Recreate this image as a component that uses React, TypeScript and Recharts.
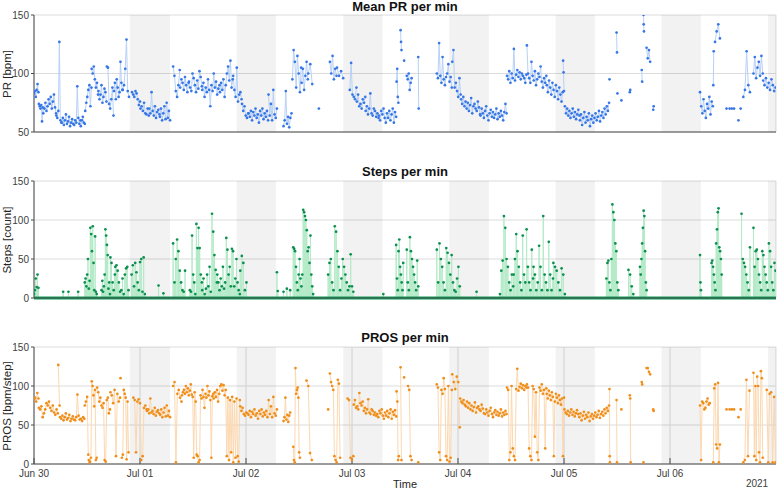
import React from 'react';
import { ComposedChart, Line, XAxis, YAxis, CartesianGrid, ReferenceArea, ReferenceLine } from 'recharts';

type Seg = [number, number, number[]];

// time axis in hours since Jun 30 00:00
const dayTicks = [0, 24, 48, 72, 96, 120, 144];
const dayLabels = ['Jun 30', 'Jul 01', 'Jul 02', 'Jul 03', 'Jul 04', 'Jul 05', 'Jul 06'];
const nightBands: [number, number][] = [
  [21.7, 30.8], [45.9, 54.8], [70.0, 78.9], [94.0, 103.0], [118.1, 127.0], [142.1, 151.0], [166.2, 168],
];
const prTicks = [50, 100, 150];
const countTicks = [0, 50, 100, 150];

// Mean PR per min [bpm]: [start h, end h, values]
const prSegments: Seg[] = [
  [0, 1.0, [83, 85, 80, 86, 91, 84]],
  [1.1, 2.0, [74, 72, 70, 73, 59, 71]],
  [2.1, 5.0, [66, 70, 75, 68, 72, 78, 74, 80, 70, 76, 82, 71, 66]],
  [5.05, 6.2, [64, 62, 68, 127, 60, 58]],
  [6.3, 10.5, [58, 62, 56, 60, 65, 57, 59, 63, 55, 58, 61, 57, 56, 60, 58, 89, 62, 57, 60]],
  [10.6, 11.5, [55, 60, 63, 58, 57]],
  [11.6, 13.0, [68, 75, 80, 86, 90, 72, 88]],
  [13.05, 14.5, [104, 100, 106, 95, 88, 92, 82]],
  [14.6, 16.4, [85, 78, 82, 90, 75, 80, 87, 84, 76]],
  [16.5, 18.0, [106, 105, 74, 70, 78, 88, 64]],
  [18.1, 20.0, [85, 92, 78, 95, 88, 80, 84, 110, 92, 86]],
  [20.1, 21.5, [86, 90, 104, 129, 85, 80]],
  [22.2, 24.0, [84, 82, 80, 85, 83, 78, 73, 76]],
  [24.1, 26.0, [70, 72, 68, 75, 66, 65, 70, 64]],
  [26.1, 28.4, [70, 66, 84, 68, 64, 72, 62, 67, 69, 65]],
  [28.5, 30.8, [63, 70, 60, 66, 72, 61, 75, 62, 68, 60]],
  [31.5, 33.0, [106, 98, 85, 80, 90, 103]],
  [33.1, 35.0, [88, 95, 92, 86, 97, 90, 84, 92]],
  [35.1, 38.0, [93, 88, 85, 100, 96, 90, 84, 94, 87, 102, 97, 89]],
  [38.1, 42.0, [86, 92, 80, 88, 84, 95, 86, 72, 90, 85, 100, 88, 93, 82, 87, 90]],
  [42.1, 45.0, [84, 92, 86, 95, 80, 90, 100, 106, 94, 111, 88, 95]],
  [45.1, 47.0, [98, 86, 80, 105, 76, 82, 84, 78]],
  [47.1, 48.5, [74, 68, 72, 64, 62, 66]],
  [48.6, 53.0, [66, 63, 68, 60, 67, 64, 70, 62, 65, 58, 68, 64, 70, 61, 66, 63, 68, 60]],
  [53.1, 55.0, [82, 64, 74, 60, 86, 65, 62, 70]],
  [56.5, 58.3, [55, 60, 85, 57, 63, 54, 62, 66]],
  [58.5, 60.5, [95, 120, 110, 88, 115, 100, 84, 105]],
  [60.6, 62.0, [92, 104, 86, 98, 110, 95]],
  [62.1, 63.0, [100, 108, 91]],
  [64.5, 64.5, [70]],
  [67.0, 68.5, [110, 100, 115, 95, 104, 98]],
  [68.6, 70.0, [105, 98, 102, 96]],
  [71.5, 73.0, [86, 109, 82, 80, 78, 88]],
  [73.1, 75.0, [76, 82, 72, 74, 70, 78, 75, 80]],
  [75.1, 78.0, [68, 72, 65, 70, 83, 66, 64, 70, 68, 63, 66, 62]],
  [78.1, 82.0, [64, 60, 68, 65, 70, 62, 58, 66, 62, 68, 60, 65, 70, 58, 67, 63]],
  [82.1, 82.5, [93, 104, 80, 75]],
  [83.0, 83.2, [137, 127, 120]],
  [83.8, 83.8, [111]],
  [84.4, 85.5, [98, 95, 100, 86, 92, 96]],
  [87.0, 87.1, [114, 70]],
  [91.2, 94.6, [100, 96, 126, 98, 92, 114, 95, 90, 97, 100, 108, 93, 97, 88]],
  [94.7, 96.6, [110, 120, 88, 92, 85, 80, 96, 82]],
  [96.7, 101.0, [78, 74, 80, 72, 76, 70, 75, 68, 73, 79, 66, 72, 74, 70, 68, 76, 71, 65]],
  [101.1, 107.0, [64, 70, 66, 62, 68, 72, 64, 60, 66, 69, 63, 67, 62, 65, 70, 61, 66, 63, 68, 64, 60, 67, 74, 66]],
  [107.1, 111.5, [98, 95, 102, 92, 100, 96, 121, 94, 99, 103, 97, 101, 95, 100, 98, 96, 92, 99]],
  [111.6, 116.0, [124, 100, 96, 92, 110, 98, 94, 102, 90, 95, 100, 97, 106, 93, 88, 96, 92, 98]],
  [116.1, 119.7, [90, 84, 94, 88, 82, 92, 86, 80, 90, 85, 78, 88, 82, 76, 84]],
  [119.8, 120.0, [111, 101, 85]],
  [120.2, 123.5, [72, 66, 70, 64, 68, 62, 66, 70, 63, 67, 61, 65, 69, 64]],
  [123.6, 130.2, [60, 65, 56, 62, 67, 58, 63, 60, 66, 55, 61, 64, 58, 62, 66, 60, 63, 68, 59, 64, 67, 62, 70, 65, 72, 68, 75]],
  [130.3, 130.3, [95]],
  [131.9, 132.0, [135, 118]],
  [132.1, 132.1, [83]],
  [133.0, 133.0, [77]],
  [134.9, 135.0, [84, 86]],
  [137.6, 137.7, [103, 93]],
  [138.0, 138.1, [150, 142, 136]],
  [138.7, 139.5, [122, 113, 120, 110]],
  [140.2, 140.3, [69, 72]],
  [150.8, 153.7, [84, 72, 66, 78, 68, 62, 74, 70, 80, 65, 76, 72]],
  [153.8, 153.9, [90, 119]],
  [154.2, 155.3, [127, 136, 142, 130]],
  [156.8, 156.8, [70]],
  [157.5, 157.5, [70]],
  [158.0, 158.0, [70]],
  [158.5, 158.5, [70]],
  [159.5, 159.5, [60]],
  [160.0, 160.0, [70]],
  [160.6, 162.1, [80, 86, 119, 90, 84]],
  [162.9, 165.0, [100, 114, 96, 105, 110, 98, 115, 100]],
  [165.1, 167.9, [94, 90, 96, 88, 92, 86, 95, 90, 85, 88]],
];

// Steps per min [count]: non-zero readings only (all other minutes are 0)
const stepSegments: Seg[] = [
  [0.0, 1.0, [5, 10, 25, 14, 30, 13]],
  [6.6, 6.6, [8]],
  [7.8, 7.8, [8]],
  [10.0, 10.0, [8]],
  [11.5, 14.2, [20, 25, 15, 30, 50, 12, 22, 90, 82, 60, 92, 45, 10, 79, 8, 5]],
  [15.3, 17.2, [10, 22, 8, 15, 30, 88, 80, 68, 55, 12, 20, 5]],
  [17.3, 18.3, [52, 45, 20, 10, 30]],
  [18.4, 21.4, [40, 42, 35, 20, 8, 10, 25, 5, 30, 38, 40, 10]],
  [22.1, 25.1, [30, 42, 15, 45, 33, 20, 10, 46, 50, 8, 52, 5]],
  [28.2, 28.2, [16]],
  [29.3, 29.3, [6]],
  [31.5, 34.2, [70, 20, 50, 75, 60, 35, 20, 10, 8, 35]],
  [35.3, 38.0, [10, 8, 80, 30, 20, 5, 95, 64, 90, 64, 30, 20]],
  [38.1, 41.4, [10, 25, 5, 12, 30, 15, 40, 8, 108, 85, 55, 36, 20]],
  [41.5, 46.6, [30, 20, 10, 25, 15, 40, 12, 20, 77, 62, 30, 40, 15, 63, 60, 15, 25, 50, 20, 10, 5]],
  [46.7, 48.1, [35, 54, 45, 10, 20]],
  [55.0, 55.0, [33]],
  [55.2, 55.2, [9]],
  [56.5, 58.0, [8, 12, 10]],
  [58.7, 63.2, [65, 63, 60, 40, 20, 10, 30, 50, 25, 15, 30, 113, 110, 105, 100, 87, 60, 65, 45, 80, 30, 15, 5]],
  [66.6, 72.3, [30, 45, 50, 20, 10, 92, 85, 60, 40, 10, 25, 50, 40, 30, 20, 10, 15, 56, 15, 8]],
  [79.1, 79.1, [5]],
  [82.0, 83.6, [68, 25, 10, 60, 75, 40, 30, 20, 10, 45]],
  [84.4, 87.0, [62, 20, 10, 78, 60, 50, 40, 30, 20, 10, 48, 15]],
  [91.2, 96.4, [62, 20, 70, 50, 40, 20, 10, 64, 58, 45, 30, 55, 20, 10, 8, 25, 40, 15]],
  [100.2, 100.2, [8]],
  [105.5, 108.5, [5, 35, 48, 105, 90, 50, 40, 20, 10, 30, 15]],
  [108.6, 113.0, [30, 50, 82, 60, 40, 20, 10, 80, 30, 20, 88, 40, 20, 10, 62, 25]],
  [113.1, 117.5, [40, 30, 10, 20, 67, 40, 10, 105, 30, 20, 10, 72, 30, 10, 25]],
  [117.6, 120.2, [45, 40, 35, 20, 10, 38, 30, 5]],
  [129.6, 132.3, [25, 45, 48, 20, 10, 50, 120, 110, 100, 70, 60, 20, 10]],
  [134.6, 135.7, [36, 30, 15, 5]],
  [137.2, 138.7, [40, 30, 50, 70, 90, 112, 105, 60, 20, 10]],
  [150.8, 151.0, [55, 20, 10]],
  [153.4, 155.7, [45, 48, 40, 30, 20, 10, 70, 88, 110, 115, 65, 60, 50, 30]],
  [160.2, 162.1, [108, 50, 45, 40, 30, 20, 10, 65]],
  [162.9, 167.9, [90, 40, 60, 62, 50, 30, 20, 10, 60, 55, 40, 30, 20, 10, 70, 60, 40, 20, 10, 45, 35]],
];

// PROS per min [bpm/step]
const prosSegments: Seg[] = [
  [0, 1.0, [83, 85, 80, 91, 84]],
  [1.1, 5.4, [72, 70, 74, 60, 65, 70, 78, 75, 80, 72, 68, 75, 66, 63, 70, 65]],
  [5.5, 5.8, [127, 75]],
  [5.9, 11.4, [60, 58, 62, 56, 60, 65, 57, 59, 63, 55, 58, 61, 57, 56, 60, 89, 62, 57, 58, 55, 60, 58]],
  [11.5, 12.3, [75, 80, 86, 12]],
  [12.4, 12.6, [5, 2]],
  [12.7, 14.2, [3, 8, 106, 100, 88, 74, 95, 5, 8]],
  [14.3, 17.2, [98, 92, 80, 85, 75, 72, 78, 5, 3, 82, 85, 65, 70]],
  [17.3, 19.5, [92, 88, 78, 95, 10, 90, 80, 85]],
  [19.6, 19.6, [110]],
  [19.9, 21.4, [8, 12, 95, 90, 85, 6, 80, 15]],
  [22.5, 25.5, [85, 82, 15, 80, 83, 78, 5, 10, 72, 75, 70]],
  [25.6, 30.8, [68, 70, 65, 84, 66, 68, 64, 72, 62, 67, 69, 65, 63, 70, 60, 66, 72, 61, 75, 62, 68, 60]],
  [31.5, 33.4, [100, 105, 2, 90, 95, 85, 80]],
  [33.5, 40.6, [88, 92, 95, 90, 100, 92, 97, 88, 94, 102, 89, 86, 8, 92, 80, 12, 10, 2, 5, 88, 84, 95, 86, 72, 90, 85, 100, 88, 93, 82, 8, 87, 90]],
  [40.7, 46.6, [84, 92, 86, 95, 80, 90, 100, 102, 94, 101, 88, 95, 10, 85, 5, 82, 15, 86, 2, 80, 8, 84, 10, 3, 82]],
  [46.7, 55.0, [74, 68, 72, 64, 62, 66, 65, 63, 68, 60, 67, 64, 70, 62, 65, 58, 68, 64, 70, 61, 66, 63, 68, 60, 82, 64, 74, 60, 86, 65, 62, 70]],
  [56.5, 58.0, [55, 60, 85, 57, 63, 54, 62, 66]],
  [58.7, 60.2, [22, 5, 2, 123, 90, 95, 98, 85, 15, 8]],
  [61.7, 62.9, [107, 100, 14, 5]],
  [66.6, 66.6, [70]],
  [67.0, 69.3, [116, 105, 100, 95, 10, 5, 2, 108, 103, 8]],
  [71.0, 72.3, [84, 82, 8, 5, 10]],
  [72.4, 82.0, [76, 82, 72, 74, 70, 91, 78, 75, 80, 68, 72, 65, 70, 83, 66, 64, 70, 68, 63, 66, 62, 64, 60, 68, 65, 70, 62, 58, 66, 62, 68, 60, 65, 70, 58, 67, 63, 69, 61]],
  [82.1, 82.6, [93, 80, 5, 10]],
  [83.0, 83.2, [124, 5]],
  [83.8, 83.8, [111]],
  [84.7, 85.5, [100, 95, 10, 5]],
  [87.0, 87.0, [2]],
  [91.2, 94.6, [102, 98, 15, 5, 95, 90, 110, 96, 10, 5, 100, 3, 8, 95]],
  [94.7, 96.4, [115, 105, 96, 112, 105, 47]],
  [96.5, 107.0, [84, 80, 78, 82, 76, 74, 80, 72, 78, 70, 75, 68, 73, 79, 66, 72, 74, 70, 68, 76, 71, 65, 64, 70, 66, 62, 68, 72, 64, 60, 66, 69, 63, 67, 62, 65, 70, 61, 66, 63, 68, 64]],
  [107.1, 111.5, [98, 95, 5, 15, 100, 20, 10, 5, 96, 122, 94, 99, 103, 97, 101, 95, 100, 98]],
  [111.6, 116.0, [102, 98, 20, 10, 5, 100, 96, 35, 92, 15, 5, 98, 94, 102, 90, 95, 20, 97]],
  [116.1, 120.0, [90, 84, 94, 88, 82, 92, 86, 10, 80, 90, 85, 78, 88, 82, 76, 84, 10, 85]],
  [120.1, 130.2, [70, 66, 64, 68, 62, 66, 70, 63, 67, 61, 65, 69, 64, 60, 65, 56, 62, 67, 58, 63, 60, 66, 55, 61, 64, 58, 62, 66, 60, 63, 68, 59, 64, 67, 62, 70, 65, 72, 68, 75]],
  [130.3, 130.4, [96, 10, 2]],
  [131.9, 132.0, [82, 2]],
  [133.0, 133.0, [70]],
  [134.9, 135.1, [88, 84, 2]],
  [137.6, 137.7, [105, 102]],
  [138.0, 138.0, [2]],
  [138.7, 139.5, [123, 123, 118, 115]],
  [140.2, 140.3, [70, 68]],
  [150.8, 153.0, [75, 5, 80, 78, 70, 72, 80, 84, 76, 78]],
  [153.8, 155.3, [2, 97, 102, 25, 20, 104, 2, 25]],
  [156.8, 156.8, [70]],
  [157.5, 157.5, [70]],
  [158.0, 158.0, [70]],
  [158.5, 158.5, [70]],
  [159.5, 159.5, [60]],
  [160.0, 160.0, [70]],
  [160.6, 162.0, [2, 5, 108, 10, 94]],
  [162.9, 165.0, [117, 10, 100, 5, 112, 100, 15, 2, 119, 110, 8]],
  [165.9, 167.9, [95, 2, 90, 92, 2, 86, 2]],
];

type Row = { t: number; v: number | null };

function segTimes(a: number, b: number, n: number) {
  const out: number[] = [];
  for (let i = 0; i < n; i++) out.push(n > 1 ? a + ((b - a) * i) / (n - 1) : a);
  return out;
}

function buildSeries(segs: Seg[]): Row[] {
  const rows: Row[] = [];
  segs.forEach(([a, b, vals], si) => {
    if (si > 0) rows.push({ t: a - 0.01, v: null });
    const ts = segTimes(a, b, vals.length);
    vals.forEach((v, i) => rows.push({ t: ts[i], v }));
  });
  return rows;
}

function buildSteps(segs: Seg[]): Row[] {
  const rows: Row[] = [];
  segs.forEach(([a, b, vals]) => {
    const ts = segTimes(a, b, vals.length);
    vals.forEach((v, i) => {
      rows.push({ t: ts[i], v: 0 }, { t: ts[i], v }, { t: ts[i], v: 0 });
    });
  });
  return rows;
}

const prData = buildSeries(prSegments);
const stepData = buildSteps(stepSegments);
const prosData = buildSeries(prosSegments);

const FONT = '"Liberation Sans", Arial, Helvetica, sans-serif';
const AXIS = '#4a4a4a';
const GRID = '#dcdcdc';

type PanelProps = {
  top: number;
  height: number;
  marginTop: number;
  xH: number;
  data: Row[];
  yDomain: [number, number];
  yTicks: number[];
  lineColor: string;
  dotColor: string;
  showXLabels: boolean;
  baseline?: string;
  hideZeroDots?: boolean;
};

function Panel(p: PanelProps) {
  const dot = (props: any) => {
    const { cx, cy, payload, index } = props;
    if (payload.v == null || (p.hideZeroDots && payload.v === 0) || cx == null || cy == null) {
      return <g key={`d${index}`} />;
    }
    return <circle key={`d${index}`} cx={cx} cy={cy} r={1.35} fill={p.dotColor} stroke="none" />;
  };
  return (
    <div style={{ position: 'absolute', left: 0, top: p.top }}>
      <ComposedChart
        width={778}
        height={p.height}
        data={p.data}
        margin={{ top: p.marginTop, right: 2, bottom: 0, left: 0 }}
      >
        {nightBands.map(([a, b], i) => (
          <ReferenceArea key={`n${i}`} x1={a} x2={b} fill="#000000" fillOpacity={0.05} stroke="none" ifOverflow="hidden" />
        ))}
        <CartesianGrid stroke={GRID} />
        <XAxis
          type="number"
          dataKey="t"
          domain={[0, 168]}
          ticks={dayTicks}
          interval={0}
          allowDataOverflow
          height={p.xH}
          tickSize={-6}
          tickMargin={p.showXLabels ? 12 : 0}
          tickFormatter={(v: number) => dayLabels[dayTicks.indexOf(v)] ?? ''}
          tick={p.showXLabels ? { fontSize: 10, fill: '#404040', fontFamily: FONT } : false}
          axisLine={{ stroke: AXIS }}
          tickLine={{ stroke: AXIS }}
        />
        <YAxis
          type="number"
          domain={p.yDomain}
          ticks={p.yTicks}
          interval={0}
          allowDataOverflow
          width={34}
          tickSize={3}
          tickMargin={2}
          tick={{ fontSize: 10, fill: '#404040', fontFamily: FONT }}
          axisLine={{ stroke: AXIS }}
          tickLine={{ stroke: AXIS }}
        />
        <Line
          type="linear"
          dataKey="v"
          stroke={p.lineColor}
          strokeWidth={1}
          dot={dot}
          activeDot={false}
          connectNulls={false}
          isAnimationActive={false}
        />
        {p.baseline && <ReferenceLine y={0} stroke={p.baseline} strokeWidth={3} />}
      </ComposedChart>
    </div>
  );
}

const titleStyle: React.CSSProperties = {
  position: 'absolute',
  left: 34,
  width: 742,
  textAlign: 'center',
  fontWeight: 'bold',
  fontSize: 13,
  color: '#111',
  lineHeight: '14px',
  fontFamily: FONT,
};

function YLabel({ text, cy }: { text: string; cy: number }) {
  return (
    <div
      style={{
        position: 'absolute',
        left: 7,
        top: cy,
        transform: 'translate(-50%, -50%) rotate(-90deg)',
        whiteSpace: 'nowrap',
        fontSize: 11.5,
        color: '#262626',
        fontFamily: FONT,
        lineHeight: '13px',
      }}
    >
      {text}
    </div>
  );
}

export default function App() {
  return (
    <div style={{ position: 'absolute', left: 0, top: 0, width: 778, height: 490, background: '#fff', fontFamily: FONT }}>
      <Panel top={0} height={140} marginTop={15} xH={8} data={prData} yDomain={[50, 150]} yTicks={prTicks}
        lineColor="#b8d1f7" dotColor="#3676e6" showXLabels={false} />
      <Panel top={160} height={146} marginTop={21} xH={8} data={stepData} yDomain={[0, 150]} yTicks={countTicks}
        lineColor="#b4eac8" dotColor="#0b8f4e" showXLabels={false} baseline="#0f9d58" hideZeroDots />
      <Panel top={326} height={164} marginTop={21} xH={26} data={prosData} yDomain={[0, 150]} yTicks={countTicks}
        lineColor="#fcd8b0" dotColor="#ef8e1a" showXLabels />
      <div style={{ ...titleStyle, top: 0 }}>Mean PR per min</div>
      <div style={{ ...titleStyle, top: 165 }}>Steps per min</div>
      <div style={{ ...titleStyle, top: 331 }}>PROS per min</div>
      <YLabel text="PR [bpm]" cy={73.5} />
      <YLabel text="Steps [count]" cy={239.5} />
      <YLabel text="PROS [bpm/step]" cy={405.5} />
      <div style={{ position: 'absolute', left: 385, width: 40, top: 478, textAlign: 'center', fontSize: 11, color: '#262626', lineHeight: '13px' }}>Time</div>
      <div style={{ position: 'absolute', left: 737, width: 40, top: 478, textAlign: 'center', fontSize: 10, color: '#404040', lineHeight: '12px' }}>2021</div>
    </div>
  );
}
